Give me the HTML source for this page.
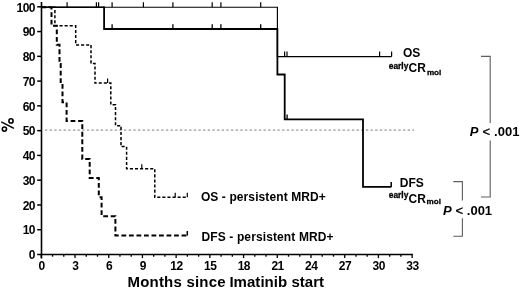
<!DOCTYPE html>
<html><head><meta charset="utf-8"><style>
html,body{margin:0;padding:0;background:#fff;width:520px;height:289px;overflow:hidden}
svg{display:block;filter:blur(0.3px)}
</style></head><body>
<svg width="520" height="289" viewBox="0 0 520 289">
<rect width="520" height="289" fill="#fff"/>
<path d="M41.5 2 V258.5" stroke="#000" stroke-width="1.6" fill="none"/>
<path d="M40.7 254.5 H412.9" stroke="#000" stroke-width="1.6" fill="none"/>
<path d="M37.2 254.50 H41.5" stroke="#000" stroke-width="1.5"/>
<path d="M37.2 229.73 H41.5" stroke="#000" stroke-width="1.5"/>
<path d="M37.2 204.96 H41.5" stroke="#000" stroke-width="1.5"/>
<path d="M37.2 180.19 H41.5" stroke="#000" stroke-width="1.5"/>
<path d="M37.2 155.42 H41.5" stroke="#000" stroke-width="1.5"/>
<path d="M37.2 130.65 H41.5" stroke="#000" stroke-width="1.5"/>
<path d="M37.2 105.88 H41.5" stroke="#000" stroke-width="1.5"/>
<path d="M37.2 81.11 H41.5" stroke="#000" stroke-width="1.5"/>
<path d="M37.2 56.34 H41.5" stroke="#000" stroke-width="1.5"/>
<path d="M37.2 31.57 H41.5" stroke="#000" stroke-width="1.5"/>
<path d="M37.2 6.80 H41.5" stroke="#000" stroke-width="1.5"/>
<path d="M41.30 254.5 V258.10" stroke="#000" stroke-width="1.3"/>
<path d="M52.54 254.5 V256.70" stroke="#000" stroke-width="1.3"/>
<path d="M63.77 254.5 V256.70" stroke="#000" stroke-width="1.3"/>
<path d="M75.01 254.5 V258.10" stroke="#000" stroke-width="1.3"/>
<path d="M86.25 254.5 V256.70" stroke="#000" stroke-width="1.3"/>
<path d="M97.48 254.5 V256.70" stroke="#000" stroke-width="1.3"/>
<path d="M108.72 254.5 V258.10" stroke="#000" stroke-width="1.3"/>
<path d="M119.96 254.5 V256.70" stroke="#000" stroke-width="1.3"/>
<path d="M131.20 254.5 V256.70" stroke="#000" stroke-width="1.3"/>
<path d="M142.43 254.5 V258.10" stroke="#000" stroke-width="1.3"/>
<path d="M153.67 254.5 V256.70" stroke="#000" stroke-width="1.3"/>
<path d="M164.91 254.5 V256.70" stroke="#000" stroke-width="1.3"/>
<path d="M176.14 254.5 V258.10" stroke="#000" stroke-width="1.3"/>
<path d="M187.38 254.5 V256.70" stroke="#000" stroke-width="1.3"/>
<path d="M198.62 254.5 V256.70" stroke="#000" stroke-width="1.3"/>
<path d="M209.86 254.5 V258.10" stroke="#000" stroke-width="1.3"/>
<path d="M221.09 254.5 V256.70" stroke="#000" stroke-width="1.3"/>
<path d="M232.33 254.5 V256.70" stroke="#000" stroke-width="1.3"/>
<path d="M243.57 254.5 V258.10" stroke="#000" stroke-width="1.3"/>
<path d="M254.80 254.5 V256.70" stroke="#000" stroke-width="1.3"/>
<path d="M266.04 254.5 V256.70" stroke="#000" stroke-width="1.3"/>
<path d="M277.28 254.5 V258.10" stroke="#000" stroke-width="1.3"/>
<path d="M288.51 254.5 V256.70" stroke="#000" stroke-width="1.3"/>
<path d="M299.75 254.5 V256.70" stroke="#000" stroke-width="1.3"/>
<path d="M310.99 254.5 V258.10" stroke="#000" stroke-width="1.3"/>
<path d="M322.23 254.5 V256.70" stroke="#000" stroke-width="1.3"/>
<path d="M333.46 254.5 V256.70" stroke="#000" stroke-width="1.3"/>
<path d="M344.70 254.5 V258.10" stroke="#000" stroke-width="1.3"/>
<path d="M355.94 254.5 V256.70" stroke="#000" stroke-width="1.3"/>
<path d="M367.17 254.5 V256.70" stroke="#000" stroke-width="1.3"/>
<path d="M378.41 254.5 V258.10" stroke="#000" stroke-width="1.3"/>
<path d="M389.65 254.5 V256.70" stroke="#000" stroke-width="1.3"/>
<path d="M400.88 254.5 V256.70" stroke="#000" stroke-width="1.3"/>
<path d="M412.12 254.5 V258.10" stroke="#000" stroke-width="1.3"/>
<path d="M45.0 130.1 H414" stroke="#b4b4b4" stroke-width="1.8" stroke-dasharray="2.3 2.35" fill="none"/>
<path d="M41.3 7.2 H277.4 V56.6 H391.6" stroke="#000" stroke-width="1.15" fill="none"/>
<path d="M67.1 7.2 V2.2" stroke="#000" stroke-width="1.2"/>
<path d="M96.4 7.2 V2.2" stroke="#000" stroke-width="1.2"/>
<path d="M98.6 7.2 V2.2" stroke="#000" stroke-width="1.2"/>
<path d="M112.1 7.2 V2.2" stroke="#000" stroke-width="1.2"/>
<path d="M143.4 7.2 V2.2" stroke="#000" stroke-width="1.2"/>
<path d="M172.9 7.2 V2.2" stroke="#000" stroke-width="1.2"/>
<path d="M212.2 7.2 V2.2" stroke="#000" stroke-width="1.2"/>
<path d="M220.9 7.2 V2.2" stroke="#000" stroke-width="1.2"/>
<path d="M260.7 7.2 V2.2" stroke="#000" stroke-width="1.2"/>
<path d="M284.6 56.6 V51.5" stroke="#000" stroke-width="1.2"/>
<path d="M287.0 56.6 V51.5" stroke="#000" stroke-width="1.2"/>
<path d="M379.6 56.6 V51.5" stroke="#000" stroke-width="1.2"/>
<path d="M391.6 56.6 V51.5" stroke="#000" stroke-width="1.2"/>
<path d="M41.3 7.2 H104.1" stroke="#000" stroke-width="1.45" fill="none"/><path d="M104.1 6.5 V29 H277.4 V74.5 H284.7 V119.4 H363 V186.9 H391.3" stroke="#000" stroke-width="1.8" fill="none"/>
<path d="M112.1 29 V24.3" stroke="#000" stroke-width="1.3"/>
<path d="M172.9 29 V24.3" stroke="#000" stroke-width="1.3"/>
<path d="M212.2 29 V24.3" stroke="#000" stroke-width="1.3"/>
<path d="M220.9 29 V24.3" stroke="#000" stroke-width="1.3"/>
<path d="M260.7 29 V24.3" stroke="#000" stroke-width="1.3"/>
<path d="M287.1 119.3 V114.5" stroke="#000" stroke-width="1.3"/>
<path d="M391.2 186.9 V182.1" stroke="#000" stroke-width="1.5"/>
<path d="M41.3 7.2 H54.9 V25.8 H75.7 V44.9 H91 V63.6 H95 V83.1 H110.8 V104.8 H115.5 V125.7 H121 V146.6 H126.6 V168.8 H154.8 V197.3 H187.3" stroke="#000" stroke-width="1.5" fill="none" stroke-dasharray="3.1 1.98" stroke-dashoffset="-1.25"/>
<path d="M107.6 83.1 V78.5" stroke="#000" stroke-width="1.2"/>
<path d="M141.8 168.8 V164.2" stroke="#000" stroke-width="1.2"/>
<path d="M175.2 197.3 V192.7" stroke="#000" stroke-width="1.2"/>
<path d="M187.3 197.3 V192.7" stroke="#000" stroke-width="1.2"/>
<path d="M41.3 7.2 H51.5 V25.8 H56.8 V44.8 H59.5 V64 H60.7 V83.1 H62.5 V102.3 H66.6 V121 H82.3 V159 H89.7 V178 H98.8 V197.3 H101.6 V216.2 H115.4 V235.6 H187.3" stroke="#000" stroke-width="2" fill="none" stroke-dasharray="4.8 2.72" stroke-dashoffset="-0.2"/>
<path d="M187.3 235.6 V231" stroke="#000" stroke-width="1.5"/>
<path d="M481 56.4 H490.2 V123 M490.2 140.5 V197 H481" stroke="#5e5e5e" stroke-width="1.1" fill="none"/>
<path d="M453.3 181.6 H462.4 V200.5 M462.4 218.3 V236.2 H453.3" stroke="#5e5e5e" stroke-width="1.1" fill="none"/>
<text x="35" y="259.20" font-family="Liberation Sans" font-weight="bold" font-size="12" text-anchor="end" letter-spacing="-0.5">0</text>
<text x="35" y="234.43" font-family="Liberation Sans" font-weight="bold" font-size="12" text-anchor="end" letter-spacing="-0.5">10</text>
<text x="35" y="209.66" font-family="Liberation Sans" font-weight="bold" font-size="12" text-anchor="end" letter-spacing="-0.5">20</text>
<text x="35" y="184.89" font-family="Liberation Sans" font-weight="bold" font-size="12" text-anchor="end" letter-spacing="-0.5">30</text>
<text x="35" y="160.12" font-family="Liberation Sans" font-weight="bold" font-size="12" text-anchor="end" letter-spacing="-0.5">40</text>
<text x="35" y="135.35" font-family="Liberation Sans" font-weight="bold" font-size="12" text-anchor="end" letter-spacing="-0.5">50</text>
<text x="35" y="110.58" font-family="Liberation Sans" font-weight="bold" font-size="12" text-anchor="end" letter-spacing="-0.5">60</text>
<text x="35" y="85.81" font-family="Liberation Sans" font-weight="bold" font-size="12" text-anchor="end" letter-spacing="-0.5">70</text>
<text x="35" y="61.04" font-family="Liberation Sans" font-weight="bold" font-size="12" text-anchor="end" letter-spacing="-0.5">80</text>
<text x="35" y="36.27" font-family="Liberation Sans" font-weight="bold" font-size="12" text-anchor="end" letter-spacing="-0.5">90</text>
<text x="35" y="11.50" font-family="Liberation Sans" font-weight="bold" font-size="12" text-anchor="end" letter-spacing="-0.5">100</text>
<text x="41.60" y="269.5" font-family="Liberation Sans" font-weight="bold" font-size="12" text-anchor="middle" letter-spacing="-0.5">0</text>
<text x="75.31" y="269.5" font-family="Liberation Sans" font-weight="bold" font-size="12" text-anchor="middle" letter-spacing="-0.5">3</text>
<text x="109.02" y="269.5" font-family="Liberation Sans" font-weight="bold" font-size="12" text-anchor="middle" letter-spacing="-0.5">6</text>
<text x="142.73" y="269.5" font-family="Liberation Sans" font-weight="bold" font-size="12" text-anchor="middle" letter-spacing="-0.5">9</text>
<text x="176.44" y="269.5" font-family="Liberation Sans" font-weight="bold" font-size="12" text-anchor="middle" letter-spacing="-0.5">12</text>
<text x="210.16" y="269.5" font-family="Liberation Sans" font-weight="bold" font-size="12" text-anchor="middle" letter-spacing="-0.5">15</text>
<text x="243.87" y="269.5" font-family="Liberation Sans" font-weight="bold" font-size="12" text-anchor="middle" letter-spacing="-0.5">18</text>
<text x="277.58" y="269.5" font-family="Liberation Sans" font-weight="bold" font-size="12" text-anchor="middle" letter-spacing="-0.5">21</text>
<text x="311.29" y="269.5" font-family="Liberation Sans" font-weight="bold" font-size="12" text-anchor="middle" letter-spacing="-0.5">24</text>
<text x="345.00" y="269.5" font-family="Liberation Sans" font-weight="bold" font-size="12" text-anchor="middle" letter-spacing="-0.5">27</text>
<text x="378.71" y="269.5" font-family="Liberation Sans" font-weight="bold" font-size="12" text-anchor="middle" letter-spacing="-0.5">30</text>
<text x="412.42" y="269.5" font-family="Liberation Sans" font-weight="bold" font-size="12" text-anchor="middle" letter-spacing="-0.5">33</text>
<g fill="none" stroke="#000"><circle cx="11.0" cy="120.9" r="2.1" stroke-width="1.6"/><circle cx="4.4" cy="129.1" r="2.1" stroke-width="1.6"/><path d="M1.3 121.8 L13.9 128.4" stroke-width="1.45"/></g>
<text x="127.5" y="287" font-family="Liberation Sans" font-weight="bold" font-size="15"><tspan letter-spacing="0.2">Months since </tspan><tspan x="229.4" letter-spacing="0.04">Imatinib start</tspan></text>
<text x="200.9" y="200.9" font-family="Liberation Sans" font-weight="bold" font-size="12" letter-spacing="0.1">OS - persistent MRD+</text>
<text x="201.5" y="240.6" font-family="Liberation Sans" font-weight="bold" font-size="12" letter-spacing="0.12">DFS - persistent MRD+</text>
<text x="402.9" y="57.2" font-family="Liberation Sans" font-weight="bold" font-size="12">OS</text>
<text x="388.8" y="69.0" font-family="Liberation Sans" font-weight="bold" font-size="8.4" stroke="#000" stroke-width="0.3">early</text>
<text x="408.6" y="72.3" font-family="Liberation Sans" font-weight="bold" font-size="12">CR</text>
<text x="426.9" y="75.1" font-family="Liberation Sans" font-weight="bold" font-size="8.1" stroke="#000" stroke-width="0.3">mol</text>
<text x="399.8" y="186.9" font-family="Liberation Sans" font-weight="bold" font-size="12">DFS</text>
<text x="388.8" y="198.2" font-family="Liberation Sans" font-weight="bold" font-size="8.4" stroke="#000" stroke-width="0.3">early</text>
<text x="408.5" y="202.6" font-family="Liberation Sans" font-weight="bold" font-size="12">CR</text>
<text x="426.5" y="204.4" font-family="Liberation Sans" font-weight="bold" font-size="8.1" stroke="#000" stroke-width="0.3">mol</text>
<text y="136.0" font-family="Liberation Sans" font-size="13"><tspan x="469.8" font-weight="bold" font-style="italic">P</tspan><tspan x="482.5" stroke="#000" stroke-width="0.35">&lt;</tspan><tspan x="494.1" font-weight="bold">.001</tspan></text>
<text y="215.0" font-family="Liberation Sans" font-size="13"><tspan x="443" font-weight="bold" font-style="italic">P</tspan><tspan x="455.6" stroke="#000" stroke-width="0.35">&lt;</tspan><tspan x="466.8" font-weight="bold">.001</tspan></text>
</svg>
</body></html>
